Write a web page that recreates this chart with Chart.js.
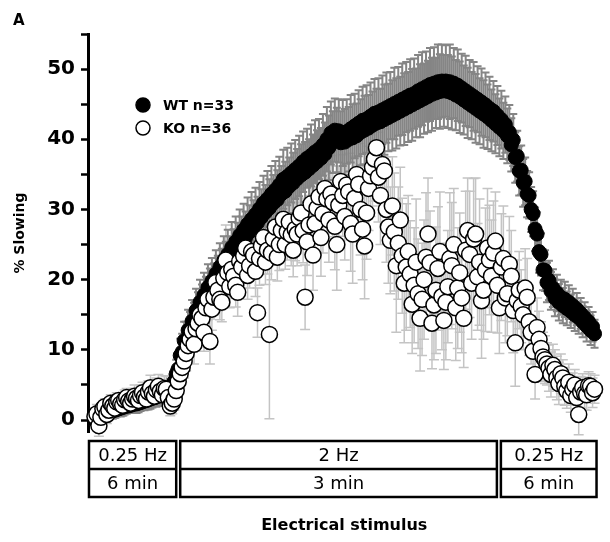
<!DOCTYPE html>
<html>
<head>
<meta charset="utf-8">
<script src="https://cdn.jsdelivr.net/npm/chart.js@4/dist/chart.umd.min.js"></script>
<style>
  body { margin: 0; background: #fff; }
  canvas { display: block; }
</style>
</head>
<body>
<canvas id="chartJSContainer" width="610" height="542"></canvas>
<script>
// % slowing per recorded stimulus (sample index along the protocol)
var wtMean = [
    0.0, 0.4, 0.5, 0.8, 0.8, 0.9, 1.0, 1.2, 1.2, 1.3, 1.4, 1.5, 1.6, 1.7, 1.8, 1.9, 2.0, 2.0, 2.1, 2.2,
    2.3, 2.3, 2.4, 2.5, 2.6, 2.7, 2.8, 2.9, 3.0, 3.1, 3.2, 3.3, 3.4, 3.5, 3.6, 3.7, 3.9, 4.1, 4.3, 4.8,
    5.5, 6.6, 7.3, 9.2, 9.7, 11.3, 11.2, 12.8, 12.4, 14.1, 13.8, 15.6, 15.0, 16.8, 16.2, 17.8, 17.1, 18.9, 18.2, 19.8,
    19.0, 20.8, 19.9, 21.8, 21.0, 22.7, 21.8, 23.6, 22.7, 24.6, 23.5, 25.4, 24.5, 26.3, 25.2, 27.1, 26.0, 27.9, 26.8, 28.6,
    27.4, 29.3, 28.1, 30.1, 28.9, 30.9, 29.6, 31.5, 30.2, 32.2, 30.9, 32.8, 31.4, 33.5, 32.2, 34.3, 32.6, 34.7, 33.3, 35.2,
    33.8, 35.7, 34.4, 36.2, 34.9, 36.8, 35.3, 37.3, 35.8, 37.7, 36.3, 38.2, 36.8, 38.6, 37.3, 39.2, 37.9, 40.0, 38.8, 40.9,
    39.6, 41.3, 39.9, 41.2, 39.5, 40.9, 39.6, 41.1, 40.0, 41.5, 40.2, 41.9, 40.5, 42.3, 41.0, 42.7, 41.3, 42.9, 41.6, 43.3,
    42.0, 43.7, 42.3, 43.9, 42.5, 44.2, 42.8, 44.5, 43.1, 44.8, 43.4, 45.1, 43.7, 45.4, 44.0, 45.7, 44.3, 46.0, 44.6, 46.3,
    44.9, 46.5, 45.2, 46.9, 45.5, 47.2, 45.8, 47.5, 46.1, 47.8, 46.4, 48.0, 46.6, 48.2, 46.8, 48.3, 46.9, 48.3, 46.8, 48.2,
    46.6, 48.0, 46.3, 47.7, 46.0, 47.3, 45.6, 46.9, 45.2, 46.5, 44.8, 46.1, 44.4, 45.7, 44.0, 45.3, 43.6, 44.9, 43.2, 44.4,
    42.7, 44.0, 42.2, 43.4, 41.7, 42.8, 41.2, 42.1, 40.5, 41.0, 39.2, 39.9, 37.4, 37.6, 35.5, 35.6, 33.8, 34.0, 32.2, 32.0,
    30.0, 29.4, 27.2, 26.5, 24.0, 23.6, 21.4, 21.3, 19.6, 19.9, 18.4, 18.8, 17.4, 18.1, 16.8, 17.5, 16.3, 17.2, 15.9, 16.8,
    15.5, 16.3, 15.0, 15.8, 14.6, 15.2, 14.0, 14.6, 13.4, 14.0, 12.8, 13.3, 12.3
];
var wtSem = [
    0.8, 0.9, 0.9, 0.8, 0.8, 1.0, 0.9, 1.0, 0.9, 1.1, 1.1, 1.0, 1.0, 1.2, 1.2, 1.1, 1.1, 1.0, 1.0, 1.2,
    1.2, 1.3, 1.3, 1.2, 1.1, 1.3, 1.3, 1.4, 1.4, 1.3, 1.2, 1.4, 1.4, 1.5, 1.5, 1.4, 1.4, 1.5, 1.6, 1.7,
    1.8, 2.0, 2.2, 2.4, 2.6, 2.7, 2.8, 2.9, 3.0, 3.0, 2.9, 3.1, 3.2, 3.2, 3.1, 3.2, 3.3, 3.3, 3.4, 3.3,
    3.3, 3.4, 3.5, 3.4, 3.4, 3.5, 3.6, 3.5, 3.5, 3.6, 3.7, 3.6, 3.6, 3.7, 3.8, 3.7, 3.7, 3.8, 3.8, 3.9,
    3.9, 3.8, 3.7, 3.8, 4.0, 3.9, 3.9, 4.0, 4.1, 4.0, 4.0, 4.1, 4.2, 4.0, 4.0, 4.2, 4.2, 4.1, 4.1, 4.2,
    4.3, 4.2, 4.2, 4.3, 4.4, 4.3, 4.3, 4.2, 4.2, 4.4, 4.4, 4.5, 4.5, 4.3, 4.3, 4.4, 4.5, 4.6, 4.6, 4.5,
    4.4, 4.5, 4.6, 4.5, 4.5, 4.7, 4.7, 4.6, 4.6, 4.8, 4.8, 4.6, 4.6, 4.7, 4.7, 4.8, 4.9, 4.8, 4.7, 4.8,
    4.8, 4.9, 4.9, 4.8, 4.7, 4.9, 5.0, 5.0, 4.8, 4.8, 5.0, 5.1, 5.0, 4.9, 4.9, 5.1, 5.1, 5.0, 5.0, 5.1,
    5.1, 5.0, 4.9, 5.1, 5.2, 5.2, 5.0, 5.0, 5.1, 5.2, 5.2, 5.1, 5.0, 5.3, 5.3, 5.2, 5.1, 5.1, 5.2, 5.3,
    5.2, 5.0, 5.0, 5.1, 5.1, 4.9, 4.9, 5.0, 5.0, 4.8, 4.8, 4.9, 4.9, 4.7, 4.7, 4.8, 4.8, 4.6, 4.6, 4.5,
    4.4, 4.3, 4.2, 4.2, 4.1, 4.1, 4.0, 4.0, 3.9, 3.9, 3.8, 3.7, 3.6, 3.6, 3.5, 3.5, 3.4, 3.4, 3.3, 3.3,
    3.2, 3.2, 3.1, 3.1, 3.0, 3.0, 2.9, 2.9, 2.8, 2.8, 2.7, 2.7, 2.6, 2.6, 2.6, 2.5, 2.5, 2.5, 2.4, 2.4,
    2.4, 2.4, 2.3, 2.3, 2.3, 2.2, 2.2, 2.2, 2.2, 2.1, 2.1, 2.1, 2.0
];
var koMean = [
    0.5, 0.9, -0.8, 0.4, 1.6, 1.9, 0.8, 1.4, 2.4, 2.0, 1.7, 2.6, 2.8, 2.3, 2.1, 2.9, 3.2, 2.7, 2.4, 3.0,
    3.4, 3.1, 2.8, 3.5, 3.9, 3.3, 3.0, 4.0, 4.6, 3.8, 3.4, 4.3, 4.8, 4.1, 3.6, 4.5, 4.4, 3.2, 2.0, 2.4,
    3.0, 4.2, 5.5, 6.6, 7.5, 8.4, 9.5, 10.6, 11.5, 12.6, 10.8, 13.0, 13.8, 15.0, 14.5, 12.5, 16.0, 17.2, 11.2, 15.8,
    17.5, 19.6, 18.5, 17.2, 16.8, 20.2, 22.8, 21.0, 19.0, 21.5, 20.5, 19.2, 18.2, 22.6, 21.8, 23.4, 24.5, 20.6, 22.0, 24.0,
    23.5, 21.2, 15.3, 23.0, 24.8, 26.0, 22.5, 24.2, 12.2, 23.8, 25.8, 27.5, 23.2, 25.0, 27.0, 28.6, 25.0, 26.8, 28.2, 26.4,
    24.2, 27.2, 26.5, 28.8, 29.5, 27.0, 17.5, 25.4, 27.8, 30.8, 23.5, 28.0, 30.2, 31.8, 26.0, 29.4, 33.0, 31.5, 28.5, 32.2,
    31.0, 27.6, 25.0, 30.6, 34.0, 32.0, 29.0, 33.5, 32.5, 28.0, 26.5, 31.6, 35.0, 33.6, 30.0, 27.2, 24.8, 29.5, 33.0, 34.8,
    36.0, 37.2, 38.8, 34.6, 32.0, 36.4, 35.5, 30.0, 27.5, 25.6, 30.5, 26.8, 22.0, 25.2, 28.5, 23.4, 19.5, 21.8, 24.0, 20.8,
    16.5, 19.2, 22.5, 18.0, 14.5, 17.2, 20.0, 23.2, 26.5, 22.4, 13.8, 16.4, 18.5, 21.6, 24.0, 17.6, 14.2, 16.8, 19.0, 23.0,
    22.0, 25.0, 16.0, 18.8, 21.0, 17.4, 14.5, 24.2, 27.0, 23.6, 19.5, 25.8, 26.5, 20.4, 22.5, 17.0, 18.5, 21.4, 24.5, 22.8,
    20.5, 23.8, 25.5, 19.2, 16.0, 21.8, 23.0, 17.4, 18.0, 22.2, 20.5, 15.6, 11.0, 17.0, 18.5, 16.2, 15.0, 18.8, 17.5, 14.0,
    12.5, 9.8, 6.5, 13.2, 11.5, 10.2, 9.0, 8.6, 8.0, 7.4, 6.5, 7.8, 7.2, 6.0, 5.2, 6.6, 6.0, 4.8, 4.2, 5.4,
    3.5, 4.4, 5.0, 3.2, 0.8, 4.0, 4.6, 3.8, 3.6, 4.9, 4.8, 3.9, 4.4
];
var koSem = [
    1.2, 1.3, 1.5, 1.2, 1.0, 1.1, 1.3, 1.2, 1.2, 1.4, 1.4, 1.3, 1.0, 1.2, 1.5, 1.4, 1.3, 1.2, 1.2, 1.5,
    1.6, 1.4, 1.2, 1.5, 1.5, 1.3, 1.3, 1.6, 1.8, 1.5, 1.4, 1.7, 1.7, 1.6, 1.5, 1.8, 1.8, 1.6, 1.4, 1.5,
    1.6, 1.8, 2.0, 2.1, 2.2, 2.4, 2.5, 2.4, 2.3, 2.6, 2.8, 2.6, 2.4, 2.8, 3.0, 2.7, 2.6, 2.9, 3.2, 3.0,
    2.5, 2.8, 3.0, 2.9, 2.8, 3.4, 5.0, 3.6, 3.0, 3.2, 2.8, 3.1, 3.4, 3.3, 3.0, 3.6, 3.5, 3.4, 3.2, 3.5,
    3.0, 3.6, 3.5, 3.8, 4.0, 3.6, 3.2, 3.4, 12.0, 3.8, 3.6, 3.9, 3.4, 3.7, 4.0, 4.1, 3.5, 4.0, 4.2, 4.4,
    3.8, 4.5, 4.5, 4.2, 4.0, 4.6, 4.6, 4.8, 4.2, 4.4, 5.0, 5.2, 4.4, 5.0, 5.5, 5.6, 4.8, 5.4, 6.0, 5.5,
    5.2, 6.2, 6.5, 5.6, 5.0, 5.8, 6.2, 6.4, 5.5, 6.8, 7.0, 6.0, 5.0, 5.8, 6.5, 7.2, 7.5, 6.6, 6.0, 5.8,
    5.5, 6.0, 5.0, 6.4, 7.0, 6.5, 6.0, 7.5, 8.0, 7.6, 7.0, 8.4, 9.5, 8.0, 7.5, 8.2, 8.5, 9.0, 8.0, 7.6,
    7.0, 8.2, 9.0, 7.8, 7.5, 8.0, 8.5, 9.2, 8.0, 7.4, 6.5, 7.8, 9.0, 8.8, 8.5, 7.6, 7.0, 8.2, 8.0, 9.4,
    9.0, 8.0, 7.5, 8.6, 8.5, 7.8, 7.0, 8.4, 7.5, 9.0, 8.0, 8.6, 8.0, 7.6, 9.0, 8.2, 7.0, 8.8, 8.5, 7.8,
    8.0, 7.4, 7.0, 6.8, 6.5, 7.6, 7.5, 6.4, 6.0, 6.8, 6.5, 6.0, 6.2, 5.8, 5.5, 5.2, 5.0, 5.6, 5.5, 4.8,
    4.5, 4.0, 3.5, 4.2, 4.0, 3.8, 3.5, 3.4, 3.0, 3.3, 3.2, 3.0, 2.8, 3.1, 3.0, 2.8, 2.6, 2.7, 2.5, 2.6,
    2.4, 2.3, 2.2, 2.5, 2.9, 2.2, 2.0, 2.3, 2.2, 2.0, 1.8, 2.1, 2.0
];

// stimulation protocol, edges given in sample index
var phaseRate = ['0.25 Hz', '2 Hz', '0.25 Hz'];
var phaseTime = ['6 min', '3 min', '6 min'];
var phaseEdges = [-3, 42, 203.75, 253];

var yTicks = [0, 10, 20, 30, 40, 50];

function toPoints(arr) {
    var pts = [];
    for (var i = 0; i < arr.length; i++) {
        pts.push({ x: i, y: arr[i] });
    }
    return pts;
}

var FONT = 'DejaVu Sans';

// SEM bars, drawn under the markers
var errorBars = {
    id: 'errorBars',
    beforeDatasetsDraw: function (chart) {
        var ctx = chart.ctx;
        var x = chart.scales.x, y = chart.scales.y;
        ctx.save();
        chart.data.datasets.forEach(function (ds) {
            ctx.strokeStyle = ds.errorColor;
            ctx.lineWidth = ds.errorWidth;
            ds.data.forEach(function (p, i) {
                var e = ds.errors[i];
                var px = x.getPixelForValue(p.x);
                var top = y.getPixelForValue(p.y + e);
                var bot = y.getPixelForValue(p.y - e);
                var w = ds.capWidth / 2;
                ctx.beginPath();
                ctx.moveTo(px, top); ctx.lineTo(px, bot);
                ctx.moveTo(px - w, top); ctx.lineTo(px + w, top);
                ctx.moveTo(px - w, bot); ctx.lineTo(px + w, bot);
                ctx.stroke();
            });
        });
        ctx.restore();
    }
};

// legend, protocol boxes, x title, panel letter
var decorations = {
    id: 'decorations',
    afterDraw: function (chart) {
        var ctx = chart.ctx;
        var x = chart.scales.x;
        ctx.save();

        ctx.fillStyle = '#000';
        ctx.font = 'bold 15px ' + FONT;
        ctx.textAlign = 'left';
        ctx.textBaseline = 'middle';
        ctx.fillText('A', 13, 21);

        // legend (WT first)
        var order = [1, 0];
        order.forEach(function (di, k) {
            var ds = chart.data.datasets[di];
            var cy = 105 + k * 23;
            ctx.beginPath();
            ctx.arc(143, cy, 7, 0, Math.PI * 2);
            ctx.fillStyle = ds.pointBackgroundColor;
            ctx.fill();
            ctx.lineWidth = 1.5;
            ctx.strokeStyle = '#000';
            ctx.stroke();
            ctx.fillStyle = '#000';
            ctx.font = 'bold 14px ' + FONT;
            ctx.textAlign = 'left';
            ctx.fillText(ds.label, 163, cy + 1);
        });

        // protocol boxes
        var rowTop = 441, rowMid = 469, rowBot = 497;
        ctx.lineWidth = 2.5;
        ctx.strokeStyle = '#000';
        for (var i = 0; i < phaseRate.length; i++) {
            var l = x.getPixelForValue(phaseEdges[i]) + (i === 0 ? 0 : 2);
            var r = x.getPixelForValue(phaseEdges[i + 1]) - (i === phaseRate.length - 1 ? 0 : 2);
            ctx.strokeRect(l, rowTop, r - l, rowBot - rowTop);
            ctx.beginPath();
            ctx.moveTo(l, rowMid); ctx.lineTo(r, rowMid);
            ctx.stroke();
            ctx.font = '18px ' + FONT;
            ctx.textAlign = 'center';
            ctx.fillText(phaseRate[i], (l + r) / 2, (rowTop + rowMid) / 2 + 1);
            ctx.fillText(phaseTime[i], (l + r) / 2, (rowMid + rowBot) / 2 + 1);
        }

        ctx.font = 'bold 16px ' + FONT;
        ctx.textAlign = 'center';
        ctx.fillText('Electrical stimulus', (chart.chartArea.left + chart.chartArea.right) / 2, 526);
        ctx.restore();
    }
};

var options = {
    type: 'scatter',
    data: {
        datasets: [
            {
                label: 'KO n=36',
                data: toPoints(koMean),
                errors: koSem,
                errorColor: '#c4c4c4',
                errorWidth: 1.5,
                capWidth: 10,
                pointRadius: 8,
                pointBackgroundColor: '#fff',
                pointBorderColor: '#000',
                pointBorderWidth: 1.5,
                showLine: false,
                clip: false
            },
            {
                label: 'WT n=33',
                data: toPoints(wtMean),
                errors: wtSem,
                errorColor: '#858585',
                errorWidth: 2,
                capWidth: 8,
                pointRadius: 7,
                pointBackgroundColor: '#000',
                pointBorderColor: '#000',
                pointBorderWidth: 1,
                showLine: false,
                clip: false
            }
        ]
    },
    options: {
        responsive: false,
        animation: false,
        devicePixelRatio: 1,
        layout: { padding: { left: 0, right: 5, top: 34, bottom: 110 } },
        plugins: {
            legend: { display: false },
            tooltip: { enabled: false }
        },
        scales: {
            x: { type: 'linear', display: false, min: -3.5, max: 255 },
            y: {
                min: -1.7,
                max: 55,
                afterFit: function (scale) { scale.width = 88; },
                ticks: {
                    stepSize: 5,
                    includeBounds: false,
                    padding: 6,
                    color: '#000',
                    font: { family: FONT, size: 20, weight: 'bold' },
                    callback: function (v) { return yTicks.indexOf(v) >= 0 ? v : ''; }
                },
                grid: {
                    display: true,
                    drawOnChartArea: false,
                    drawTicks: true,
                    tickLength: 7,
                    tickWidth: 2.5,
                    tickColor: '#000'
                },
                border: { display: true, color: '#000', width: 3 },
                title: {
                    display: true,
                    text: '% Slowing',
                    color: '#000',
                    font: { family: FONT, size: 14, weight: 'bold' },
                    padding: { top: 12, bottom: 0 }
                }
            }
        }
    },
    plugins: [errorBars, decorations]
};

var ctx = document.getElementById('chartJSContainer').getContext('2d');
new Chart(ctx, options);
</script>
</body>
</html>
